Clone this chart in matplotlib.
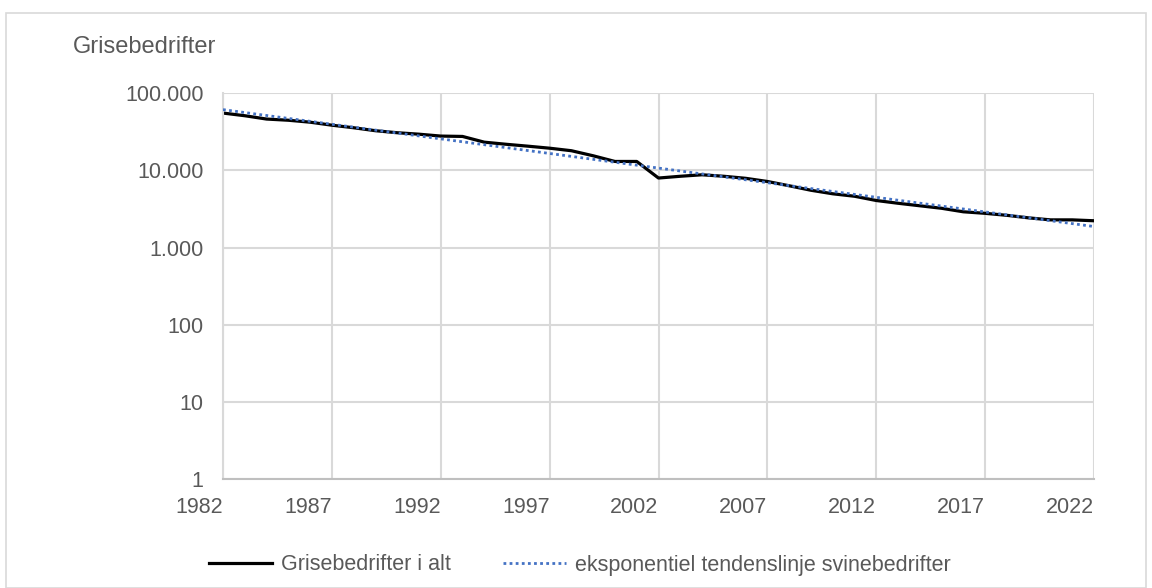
import numpy as np
import matplotlib
matplotlib.use('Agg')
import matplotlib.pyplot as plt
from matplotlib.patches import Rectangle

# number of pig farms per year
years = np.arange(1982, 2023)
farms = [55000, 50800, 46000, 44400, 41900, 38300, 35500, 32500, 30600, 29300,
         27700, 27400, 23100, 21700, 20500, 19300, 17900, 15400, 13000, 13000,
         7930, 8360, 8740, 8360, 7870, 7160, 6300, 5510, 4960, 4610,
         4060, 3740, 3470, 3220, 2900, 2770, 2610, 2420, 2280, 2280, 2220]

ytick_vals = [1, 10, 100, 1000, 10000, 100000]
ytick_labels = ['1', '10', '100', '1.000', '10.000', '100.000']
xtick_vals = list(range(1982, 2023, 5))

series_name = 'Grisebedrifter i alt'
trend_name = 'eksponentiel tendenslinje svinebedrifter'
ylabel = 'Grisebedrifter'

# exponential trendline (least squares on log values, as Excel does)
coef = np.polyfit(years, np.log(farms), 1)
trend = np.exp(np.polyval(coef, years))

plt.rcParams['font.family'] = ['Liberation Sans', 'DejaVu Sans']
grey = '#595959'
gridc = '#d9d9d9'
fs = 15.5

W, H = 1152, 588
fig = plt.figure(figsize=(W/100, H/100), dpi=100)
fig.patches.append(Rectangle((6/W, 0), 1140/W, 1-13/H, transform=fig.transFigure,
                             fill=False, edgecolor=gridc, lw=1.2))

ax = fig.add_axes([223/W, 1-479.3/H, (1094-223)/W, (479.3-93)/H])
ax.plot(years, trend, color='#4472C4', lw=2.0, ls=(0, (1, 1.2)), label=trend_name, zorder=3)
ax.plot(years, farms, color='black', lw=2.3, label=series_name, zorder=2)

ax.set_yscale('log')
ax.set_ylim(1, 100000)
ax.set_xlim(1982, 2022)
ax.set_yticks(ytick_vals)
ax.set_yticklabels(ytick_labels)
ax.yaxis.set_minor_locator(matplotlib.ticker.NullLocator())
ax.set_xticks(xtick_vals)
ax.set_xticklabels([str(v) for v in xtick_vals], ha='right')

ax.grid(True, color=gridc, lw=1.5)
ax.set_axisbelow(True)
for s in ['top', 'right']:
    ax.spines[s].set_visible(False)
ax.spines['left'].set_color(gridc)
ax.spines['left'].set_linewidth(1.5)
ax.spines['bottom'].set_color('#bfbfbf')
ax.spines['bottom'].set_linewidth(1.5)
ax.tick_params(axis='both', length=0, labelsize=fs, colors=grey)
ax.tick_params(axis='y', pad=14)
ax.tick_params(axis='x', pad=13)

fig.text(73/W, 1-47/H, ylabel, fontsize=17, color=grey, va='center', ha='left')

h, l = ax.get_legend_handles_labels()
fig.legend(h[::-1], l[::-1], loc='center', bbox_to_anchor=(580/W, 1-565/H), ncol=2,
           frameon=False, fontsize=fs, labelcolor=grey, handlelength=2.9,
           handletextpad=0.42, columnspacing=2.45)

fig.savefig('out.png', dpi=100)
